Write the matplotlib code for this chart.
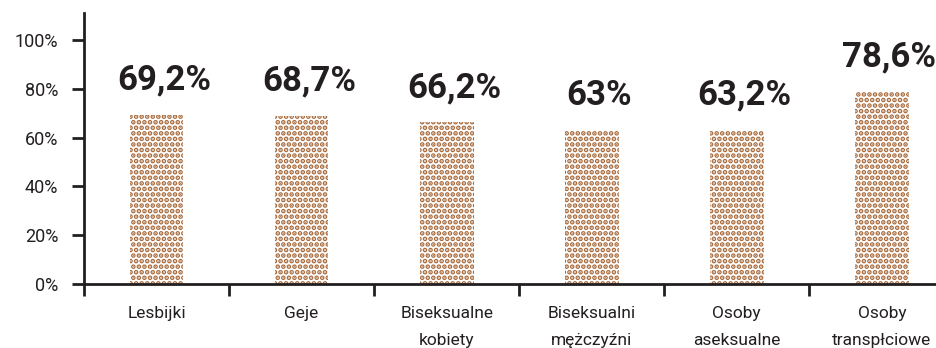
import matplotlib.pyplot as plt
import numpy as np

plt.rcParams['font.family'] = ['Roboto', 'DejaVu Sans']
plt.rcParams['hatch.linewidth'] = 2.4

categories = ["Lesbijki", "Geje", "Biseksualne\nkobiety", "Biseksualni\nmężczyźni",
              "Osoby\naseksualne", "Osoby\ntranspłciowe"]
values = [69.2, 68.7, 66.2, 63.0, 63.2, 78.6]
value_labels = ["69,2%", "68,7%", "66,2%", "63%", "63,2%", "78,6%"]
yticks = [0, 20, 40, 60, 80, 100]

dark = "#231f20"
brown = "#a8693a"

fig = plt.figure(figsize=(9.37, 3.48), dpi=100)
ax = fig.add_axes([84 / 937, 64 / 348, 1 - 84 / 937, (284 - 13) / 348])

x = np.arange(len(categories))
ax.bar(x, values, width=0.37, color="white", edgecolor=brown, linewidth=0, hatch="...")

for xi, v, lab in zip(x, values, value_labels):
    ax.text(xi + 0.05, v + 14.3, lab, ha="center", va="center", fontsize=25,
            fontweight="bold", color=dark)

ax.set_xlim(-0.5, 5.38)
ax.set_ylim(0, 111)

ax.set_yticks(yticks)
ax.set_yticklabels([f"{t}%" for t in yticks], fontsize=13, color=dark)
ax.tick_params(axis="y", length=8.6, width=2, color=dark, pad=10)

ax.set_xticks(x)
ax.set_xticklabels(categories, fontsize=12.5, color=dark, linespacing=2.0)
ax.set_xticks(np.arange(len(categories)) - 0.5, minor=True)
ax.tick_params(axis="x", which="major", length=0, pad=16)
ax.tick_params(axis="x", which="minor", length=8.6, width=2, color=dark)

for s in ["top", "right"]:
    ax.spines[s].set_visible(False)
for s in ["left", "bottom"]:
    ax.spines[s].set_linewidth(2)
    ax.spines[s].set_color(dark)

fig.savefig("out.png", dpi=100)
